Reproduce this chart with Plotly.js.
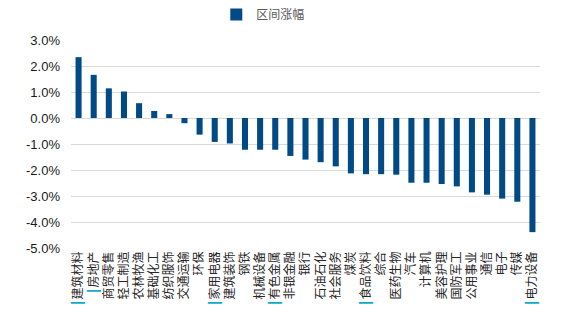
<!DOCTYPE html>
<html>
<head>
<meta charset="utf-8">
<script src="https://cdn.plot.ly/plotly-3.0.1.min.js"></script>
<style>html,body{margin:0;padding:0;background:#fff;}#chart{width:571px;height:334px;}</style>
</head>
<body>
<div id="chart"></div>
<script>
const categories = ["建筑材料","房地产","商贸零售","轻工制造","农林牧渔","基础化工","纺织服饰","交通运输","环保","家用电器","建筑装饰","钢铁","机械设备","有色金属","非银金融","银行","石油石化","社会服务","煤炭","食品饮料","综合","医药生物","汽车","计算机","美容护理","国防军工","公用事业","通信","电子","传媒","电力设备"];
const values = [2.34,1.66,1.14,1.02,0.57,0.27,0.15,-0.20,-0.64,-0.92,-0.98,-1.22,-1.22,-1.22,-1.46,-1.60,-1.70,-1.86,-2.13,-2.16,-2.16,-2.18,-2.49,-2.49,-2.54,-2.63,-2.86,-2.95,-3.10,-3.22,-4.39];
const highlighted = ["建筑材料","房地产","家用电器","有色金属","食品饮料","电力设备"];
const yTicks = [3,2,1,0,-1,-2,-3,-4,-5];
const seriesName = "区间涨幅";

const tickText = categories.map(c => highlighted.includes(c)
  ? '<span style="color:#12a9c9;font-family:DejaVu Sans">┃</span>' + c : c);

const trace = {
  type: 'bar',
  x: categories,
  y: values,
  name: seriesName,
  marker: {color: '#004a86'},
  showlegend: true
};

const layout = {
  width: 571, height: 334,
  margin: {l: 71, r: 31, t: 40, b: 86, pad: 0},
  paper_bgcolor: '#fff', plot_bgcolor: '#fff',
  bargap: 0.6,
  showlegend: true,
  legend: {orientation: 'h', x: 0.41, xanchor: 'center', y: 1, yref: 'container', yanchor: 'top',
           font: {family: '"Noto Sans CJK SC", sans-serif', size: 12, color: '#595959'},
           itemwidth: 30},
  xaxis: {
    type: 'category',
    tickmode: 'array', tickvals: categories, ticktext: tickText,
    tickangle: -90,
    tickfont: {family: '"Noto Sans CJK SC", sans-serif', size: 12, color: '#262626'},
    showgrid: false, zeroline: false, showline: false, ticks: '',
    automargin: false
  },
  yaxis: {
    range: [-5, 3],
    tickmode: 'array', tickvals: yTicks,
    ticktext: yTicks.map(v => v.toFixed(1) + '%'),
    tickfont: {family: '"Liberation Sans", Arial, sans-serif', size: 13, color: '#1a1a1a'},
    showgrid: true, gridcolor: '#d9d9d9', gridwidth: 1,
    zeroline: true, zerolinecolor: '#d9d9d9', zerolinewidth: 1,
    showline: false, ticks: '', ticklabelstandoff: 10,
    automargin: false
  }
};

Plotly.newPlot('chart', [trace], layout, {displayModeBar: false, staticPlot: true});
</script>
</body>
</html>
